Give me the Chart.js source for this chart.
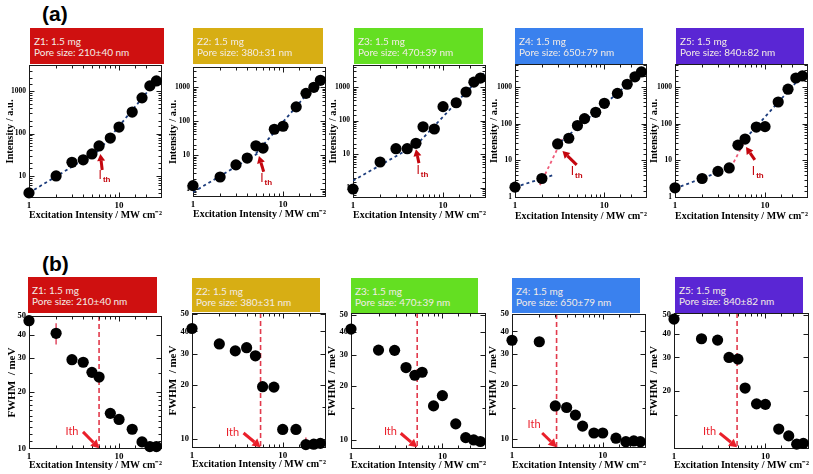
<!DOCTYPE html>
<html><head><meta charset="utf-8">
<script src="https://cdn.jsdelivr.net/npm/chart.js@4/dist/chart.umd.min.js"></script>
<style>
html,body{margin:0;padding:0;background:#fff}
body{width:813px;height:474px;overflow:hidden;position:relative}
.hdr{position:absolute;color:#f3ece6;font-family:Lato,'Open Sans',sans-serif;font-size:10px;line-height:11px;padding:8px 0 0 4px;box-sizing:border-box;z-index:2;white-space:nowrap}
.lab{position:absolute;font-weight:bold;font-size:21px;line-height:21px;font-family:'Liberation Sans',Arial,sans-serif;color:#000}
canvas{position:absolute}
</style></head><body>
<div class="lab" style="left:42px;top:3px">(a)</div>
<div class="lab" style="left:42px;top:253px">(b)</div>
<script>
// ---------------- data ----------------
const excitation = [1, 2, 3, 4, 5, 6, 8, 10, 14, 18, 22, 26];
const sampleNames = ['Z1', 'Z2', 'Z3', 'Z4', 'Z5'];
const sampleMass = ['1.5 mg', '1.5 mg', '1.5 mg', '1.5 mg', '1.5 mg'];
const poreSizes = ['210±40 nm', '380±31 nm', '470±39 nm', '650±79 nm', '840±82 nm'];

const intensityZ1 = [4.0, 10, 21, 24, 33, 51, 78, 142, 320, 690, 1320, 1730];
const intensityZ2 = [1.25, 2.25, 5.1, 8.1, 18.6, 15.9, 57, 70, 260, 650, 980, 1570];
const intensityZ3 = [0.91, 5.8, 14.5, 14.5, 21, 65, 56, 260, 340, 710, 1400, 1850];
const intensityZ4 = [1.86, 3.2, 28, 40, 89, 137, 204, 360, 670, 1190, 1900, 2570];
const intensityZ5 = [1.78, 3.2, 5.0, 6.2, 26, 38, 81, 83, 390, 870, 1760, 2000];

const fwhmZ1 = [47.3, 40.6, 29.5, 28.6, 25.3, 23.9, 15.4, 14.3, 12.7, 10.9, 10.3, 10.3];
const fwhmZ2 = [41.5, 34, 31.1, 32.4, 29.2, 19.6, 19.5, 11.3, 11.3, 9.3, 9.35, 9.45];
const fwhmZ3 = [41.7, 31.8, 31.7, 25.4, 23, 23.9, 15.5, 17.7, 12.3, 10.3, 10, 9.8];
const fwhmZ4 = [35.7, 35, 15.3, 15.0, 13.6, 11.8, 10.8, 10.8, 10.1, 9.65, 9.75, 9.65];
const fwhmZ5 = [47.7, 37.6, 37, 30, 29.4, 20.7, 17.1, 17.0, 12.6, 11.6, 10.5, 10.6];

const fwhmErrZ1 = [0, 5.2, 0, 0, 0, 0, 0, 0, 0, 0, 0, 0];
const fwhmErrZ2 = [0, 0, 0, 0, 0, 0, 0, 0, 0, 0.9, 0, 0];

// fitted lines (endpoints, x / y)
const lowFitZ1 = [[1, 4.0], [6, 40]];     const highFitZ1 = [[6, 40], [28, 2100]];
const lowFitZ2 = [[1, 0.8], [5.8, 13]];   const highFitZ2 = [[5, 11], [27, 2000]];
const lowFitZ3 = [[1, 1.6], [5.5, 22]];   const highFitZ3 = [[5, 18], [29, 2700]];
const lowFitZ4 = [[1, 1.86], [2.7, 4.0]]; const highFitZ4 = [[2.9, 25], [28, 2900]];
const jumpFitZ4 = [[1.9, 2.1], [3.4, 40]];
const lowFitZ5 = [[1, 1.7], [4.3, 6.5]];  const highFitZ5 = [[5.5, 30], [27, 2300]];
const jumpFitZ5 = [[3.9, 4.5], [6.3, 45]];

const thresholds = [6.0, 5.7, 5.3, 3.1, 4.9];
const fwhmTicks = [10, 20, 30, 40, 50];
const xRange = [1, 30];
const intensityRanges = [[3.03, 4100], [0.58, 3870], [0.49, 4540], [0.94, 4240], [0.94, 4240]];
const fwhmRanges = [[10, 50], [8.9, 50.6], [8.9, 51.2], [8.9, 50], [9.9, 51.3]];

// annotation anchors (data space): arrow tail, arrow tip, label
const arrowsA = [
  {tail: [6.5, 13.8], tip: [6.2, 33], label: [6.9, 9.3]},
  {tail: [6.1, 3.2], tip: [5.4, 9.3], label: [6.5, 1.8]},
  {tail: [5.4, 5.4], tip: [5.0, 14], label: [5.9, 2.95]},
  {tail: [4.9, 7.5], tip: [3.4, 18], label: [4.9, 4.5]},
  {tail: [7.7, 10.3], tip: [6.15, 23], label: [8.3, 4.5]}
];
const arrowsB = [
  {tail: [3.98, 12.3], tip: [6.0, 10.1], label: [3.0, 12.3]},
  {tail: [3.7, 10.8], tip: [5.7, 9.0], label: [2.8, 10.9]},
  {tail: [3.5, 10.9], tip: [5.3, 9.1], label: [2.7, 11.1]},
  {tail: [2.15, 10.8], tip: [3.1, 9.0], label: [1.75, 12.0]},
  {tail: [3.16, 12.0], tip: [4.9, 10.1], label: [2.45, 12.3]}
];

// ---------------- layout / style ----------------
const headerColors = ['#cf1010', '#d7ae14', '#64df22', '#3a81ee', '#5a26d4'];
const headersA = [[30,28,164,64],[193,28,323,64],[354,28,483,64],[515,28,643,64],[676,28,804,64]];
const headersB = [[28,277,157,313],[192,278,320,312],[351,278,478,313],[512,278,640,313],[675,277,803,313]];
const boxesA = [[29,65,162,198],[193,67,326,197],[353,65,486,198],[515,64,647,198],[675,64,808,198]];
const boxesB = [[29,316,162,449],[192,313,326,448],[351,313,486,449],[512,314,646,448],[674,313,809,449]];
const yTitleGapA = [19, 20, 20, 21, 21];
const yTitleGapB = [16, 18, 18, 18, 19];
const xTitleYA = [216, 215, 216, 217, 217];
const xTitleYB = [466, 465, 466, 466, 466];

function header(rect, i) {
  const d = document.createElement('div');
  d.className = 'hdr';
  d.style.left = rect[0] + 'px'; d.style.top = rect[1] + 'px';
  d.style.width = (rect[2] - rect[0]) + 'px'; d.style.height = (rect[3] - rect[1]) + 'px';
  d.style.background = headerColors[i];
  d.innerHTML = sampleNames[i] + ': ' + sampleMass[i] + '<br>Pore size: ' + poreSizes[i];
  document.body.appendChild(d);
}
headersA.forEach(header);
headersB.forEach(header);

Chart.defaults.font.family = "'Liberation Serif','Times New Roman',serif";
Chart.defaults.font.weight = 'bold';
Chart.defaults.color = '#000';

const isDecade = v => Math.abs(Math.log10(v) - Math.round(Math.log10(v))) < 1e-6;
const isFwhmTick = v => fwhmTicks.some(t => Math.abs(t - v) < 1e-6);
const pts = ys => excitation.map((x, i) => ({x, y: ys[i]}));
const seg = s => s.map(p => ({x: p[0], y: p[1]}));

function drawArrow(ctx, x0, y0, x1, y1, color, shaft, hl, hw) {
  const ang = Math.atan2(y1 - y0, x1 - x0);
  const bx = x1 - hl * Math.cos(ang), by = y1 - hl * Math.sin(ang);
  ctx.strokeStyle = color; ctx.lineWidth = shaft; ctx.lineCap = 'butt';
  ctx.beginPath(); ctx.moveTo(x0, y0); ctx.lineTo(bx, by); ctx.stroke();
  ctx.fillStyle = color; ctx.beginPath(); ctx.moveTo(x1, y1);
  ctx.lineTo(bx + hw / 2 * Math.sin(ang), by - hw / 2 * Math.cos(ang));
  ctx.lineTo(bx - hw / 2 * Math.sin(ang), by + hw / 2 * Math.cos(ang));
  ctx.closePath(); ctx.fill();
}

const decor = {
  id: 'decor',
  beforeDatasetsDraw(chart, args, o) {
    const {ctx, chartArea: a, scales: {x, y}} = chart;
    ctx.save();
    if (o.threshold) {
      const px = x.getPixelForValue(o.threshold);
      ctx.strokeStyle = '#e23a4c'; ctx.lineWidth = 1.6; ctx.setLineDash([5, 3]);
      ctx.beginPath(); ctx.moveTo(px, a.top); ctx.lineTo(px, a.bottom); ctx.stroke();
      ctx.setLineDash([]);
    }
    if (o.err) {
      ctx.save(); ctx.beginPath(); ctx.rect(a.left, a.top, a.width, a.height); ctx.clip();
      ctx.strokeStyle = '#e04a62'; ctx.lineWidth = 1.5;
      o.err.forEach((e, i) => {
        if (!e) return;
        const px = x.getPixelForValue(excitation[i]);
        ctx.beginPath();
        ctx.moveTo(px, y.getPixelForValue(o.vals[i] - e));
        ctx.lineTo(px, y.getPixelForValue(o.vals[i] + e));
        ctx.stroke();
      });
      ctx.restore();
    }
    ctx.strokeStyle = '#1a1a1a'; ctx.lineWidth = 1;
    const L = Math.round(a.left) + 0.5, T = Math.round(a.top) + 0.5, R = Math.round(a.right) - 0.5, B = Math.round(a.bottom) - 0.5;
    ctx.strokeRect(L, T, R - L, B - T);
    ctx.beginPath();
    x.ticks.forEach(t => {
      const v = t.value;
      if (v <= x.min * 1.0001 || v >= x.max * 0.9999) return;
      const px = Math.round(x.getPixelForValue(v)) + 0.5;
      const len = isDecade(v) ? 5 : 3;
      ctx.moveTo(px, B); ctx.lineTo(px, B - len);
      ctx.moveTo(px, T); ctx.lineTo(px, T + len);
    });
    y.ticks.forEach(t => {
      const v = t.value;
      if (v <= y.min * 1.0001 || v >= y.max * 0.9999) return;
      const py = Math.round(y.getPixelForValue(v)) + 0.5;
      const len = o.yMajor(v) ? 5 : 3;
      ctx.moveTo(L, py); ctx.lineTo(L + len, py);
      ctx.moveTo(R, py); ctx.lineTo(R - len, py);
    });
    ctx.stroke();
    ctx.restore();
  },
  afterDatasetsDraw(chart, args, o) {
    const {ctx, scales: {x, y}} = chart;
    const ar = o.arrow; if (!ar) return;
    ctx.save();
    const X = v => x.getPixelForValue(v), Y = v => y.getPixelForValue(v);
    if (o.kind === 'a') {
      drawArrow(ctx, X(ar.tail[0]), Y(ar.tail[1]), X(ar.tip[0]), Y(ar.tip[1]), '#c4060e', 3, 7, 8);
      const cx = X(ar.label[0]), cy = Y(ar.label[1]);
      ctx.fillStyle = '#c4060e'; ctx.textBaseline = 'alphabetic';
      ctx.font = "normal 12px 'Liberation Sans', Arial, sans-serif";
      const w1 = ctx.measureText('I').width;
      ctx.font = "bold 8px 'Liberation Sans', Arial, sans-serif";
      const w2 = ctx.measureText('th').width;
      const sx = cx - (w1 + w2 + 1) / 2;
      ctx.font = "normal 12px 'Liberation Sans', Arial, sans-serif";
      ctx.fillText('I', sx, cy + 2);
      ctx.font = "bold 8px 'Liberation Sans', Arial, sans-serif";
      ctx.fillText('th', sx + w1 + 1, cy + 5);
    } else {
      drawArrow(ctx, X(ar.tail[0]), Y(ar.tail[1]), X(ar.tip[0]), Y(ar.tip[1]), '#ea1f2a', 3, 8, 9);
      ctx.fillStyle = '#ea1f2a'; ctx.textAlign = 'center'; ctx.textBaseline = 'middle';
      ctx.font = "normal 11px Lato, 'Open Sans', sans-serif";
      ctx.fillText('Ith', X(ar.label[0]), Y(ar.label[1]));
    }
    ctx.restore();
  }
};

function makePanel(p) {
  const TP = 8, RP = 8;
  const yFont = p.kind === 'a' ? 10.5 : 11;
  const YW = Math.round(p.yGap + yFont * 1.2 / 2);
  const XH = Math.round(p.xTitleY - p.box[3] + 10.5 * 1.2 / 2);
  const W = (p.box[2] - p.box[0]) + YW + RP;
  const H = (p.box[3] - p.box[1]) + TP + XH;
  const cv = document.createElement('canvas');
  cv.width = W; cv.height = H;
  cv.style.left = (p.box[0] - YW) + 'px'; cv.style.top = (p.box[1] - TP) + 'px';
  cv.style.width = W + 'px'; cv.style.height = H + 'px';
  document.body.appendChild(cv);
  const datasets = [{
    data: pts(p.values), backgroundColor: '#000', borderColor: '#000',
    pointRadius: 5.6, pointHoverRadius: 5.6, borderWidth: 0, clip: false, showLine: false
  }];
  (p.fits || []).forEach(f => datasets.push({
    data: seg(f.seg), showLine: true, borderColor: f.color, borderWidth: 1.8,
    borderDash: [3, 3], pointRadius: 0, fill: false
  }));
  const yMajor = p.kind === 'a' ? isDecade : isFwhmTick;
  new Chart(cv, {
    type: 'scatter',
    data: {datasets},
    options: {
      responsive: false, animation: false, devicePixelRatio: 1, events: [],
      layout: {padding: {top: TP, right: RP, left: 0, bottom: 0}},
      plugins: {
        legend: {display: false}, tooltip: {enabled: false},
        decor: {kind: p.kind, threshold: p.threshold, err: p.err, vals: p.values, arrow: p.arrow, yMajor}
      },
      scales: {
        x: {
          type: 'logarithmic', min: xRange[0], max: xRange[1],
          grid: {display: false, drawTicks: false}, border: {display: false},
          ticks: {autoSkip: false, maxRotation: 0, padding: 2, font: {size: 9, weight: 'bold'},
            callback: v => isDecade(v) ? String(Math.round(v)) : ''},
          title: {display: true, text: 'Excitation Intensity / MW cm⁻²', font: {size: 10.5, weight: 'bold'}, padding: 0},
          afterFit: s => { s.height = XH; }
        },
        y: {
          type: 'logarithmic', min: p.yRange[0], max: p.yRange[1],
          grid: {display: false, drawTicks: false}, border: {display: false},
          ticks: {autoSkip: false, padding: 3, font: {size: p.kind === 'a' ? 7.5 : 8.5, weight: 'bold'},
            callback: v => yMajor(v) ? String(Math.round(v)) : ''},
          title: {display: true, text: p.kind === 'a' ? 'Intensity / a.u.' : 'FWHM  / meV', font: {size: yFont, weight: 'bold'}, padding: 0},
          afterFit: s => { s.width = YW; }
        }
      }
    },
    plugins: [decor]
  });
}

const navy = '#1c3c7c', pink = '#ef5a78';
const intensities = [intensityZ1, intensityZ2, intensityZ3, intensityZ4, intensityZ5];
const fwhms = [fwhmZ1, fwhmZ2, fwhmZ3, fwhmZ4, fwhmZ5];
const fitsA = [
  [{seg: lowFitZ1, color: navy}, {seg: highFitZ1, color: navy}],
  [{seg: lowFitZ2, color: navy}, {seg: highFitZ2, color: navy}],
  [{seg: lowFitZ3, color: navy}, {seg: highFitZ3, color: navy}],
  [{seg: lowFitZ4, color: navy}, {seg: highFitZ4, color: navy}, {seg: jumpFitZ4, color: pink}],
  [{seg: lowFitZ5, color: navy}, {seg: highFitZ5, color: navy}, {seg: jumpFitZ5, color: pink}]
];
const errs = [fwhmErrZ1, fwhmErrZ2, null, null, null];

for (let i = 0; i < 5; i++) {
  makePanel({kind: 'a', box: boxesA[i], yGap: yTitleGapA[i], xTitleY: xTitleYA[i],
    yRange: intensityRanges[i], values: intensities[i], fits: fitsA[i], arrow: arrowsA[i]});
  makePanel({kind: 'b', box: boxesB[i], yGap: yTitleGapB[i], xTitleY: xTitleYB[i],
    yRange: fwhmRanges[i], values: fwhms[i], threshold: thresholds[i], err: errs[i], arrow: arrowsB[i]});
}
</script>
</body></html>
